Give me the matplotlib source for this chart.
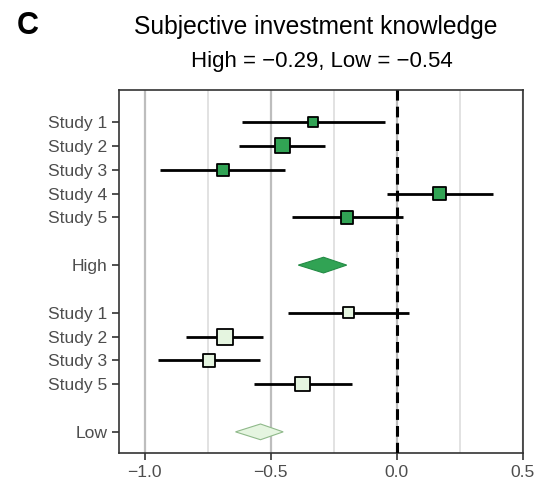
import matplotlib.pyplot as plt
from matplotlib.ticker import MultipleLocator

plt.rcParams['font.family'] = ['Liberation Sans', 'DejaVu Sans']

# study estimates
high_labels = ['Study 1', 'Study 2', 'Study 3', 'Study 4', 'Study 5']
high_est = [-0.33, -0.454, -0.69, 0.17, -0.196]
high_lo = [-0.615, -0.625, -0.937, -0.04, -0.417]
high_hi = [-0.045, -0.285, -0.442, 0.383, 0.025]
high_size = [10, 15, 12, 13, 12.5]

low_labels = ['Study 1', 'Study 2', 'Study 3', 'Study 5']
low_est = [-0.19, -0.681, -0.745, -0.373]
low_lo = [-0.43, -0.837, -0.946, -0.565]
low_hi = [0.049, -0.529, -0.542, -0.179]
low_size = [11.5, 16, 12.5, 14.5]

# pooled estimates: (estimate, lower, upper)
high_pool = (-0.29, -0.39, -0.198)
low_pool = (-0.54, -0.639, -0.45)

high_pos = [0, 1, 2, 3, 4]
high_pool_pos = 6
low_pos = [8, 9, 10, 11]
low_pool_pos = 13

dark = '#31a354'
light = '#e5f5e0'

fig = plt.figure(figsize=(5.36, 4.82), dpi=100)
ax = fig.add_axes([119.3 / 536, (482 - 453.3) / 482, 403.4 / 536, 363.3 / 482])

ax.set_xlim(-1.1, 0.5)
ax.set_ylim(13.9, -1.35)

ax.xaxis.set_major_locator(MultipleLocator(0.5))
ax.xaxis.set_minor_locator(MultipleLocator(0.25))
ax.set_axisbelow(True)
ax.grid(axis='x', which='major', color='#bdbdbd', lw=1.6)
ax.grid(axis='x', which='minor', color='#dadada', lw=1.1)


def draw_group(pos, est, lo, hi, size, color):
    ax.hlines(pos, lo, hi, color='black', lw=2, zorder=2)
    ax.scatter(est, pos, marker='s', s=[(z * 0.72) ** 2 for z in size],
               color=color, edgecolor='black', linewidth=1.3, zorder=4)


def draw_diamond(y, pool, color, edge):
    est, lo, hi = pool
    h = 0.33
    ax.fill([lo, est, hi, est], [y, y - h, y, y + h], color=color,
            ec=edge, lw=0.8, zorder=4)


draw_group(high_pos, high_est, high_lo, high_hi, high_size, dark)
draw_group(low_pos, low_est, low_lo, low_hi, low_size, light)
draw_diamond(high_pool_pos, high_pool, dark, '#238b45')
draw_diamond(low_pool_pos, low_pool, light, '#8fb98a')

ax.axvline(0, color='black', lw=2.2, ls=(0, (3.5, 2)), zorder=3)

ax.set_yticks(high_pos + [high_pool_pos] + low_pos + [low_pool_pos])
ax.set_yticklabels(high_labels + ['High'] + low_labels + ['Low'])
ax.set_xticks([-1.0, -0.5, 0.0, 0.5])
ax.set_xticklabels(['\u22121.0', '\u22120.5', '0.0', '0.5'])

ax.tick_params(axis='both', which='major', labelsize=12.6, labelcolor='#4d4d4d',
               color='#333333', length=5, width=1.2)
ax.tick_params(axis='x', which='minor', length=0)
ax.tick_params(top=False, right=False)
for sp in ax.spines.values():
    sp.set_color('#333333')
    sp.set_linewidth(1.2)

fig.text(316 / 536, 1 - 27 / 482, 'Subjective investment knowledge',
         ha='center', va='center', fontsize=17.7)
fig.text(322 / 536, 1 - 62 / 482, 'High = \u22120.29, Low = \u22120.54',
         ha='center', va='center', fontsize=16)
fig.text(17 / 536, 1 - 26 / 482, 'C', ha='left', va='center',
         fontsize=22, fontweight='bold')

fig.savefig('out.png', dpi=100)
